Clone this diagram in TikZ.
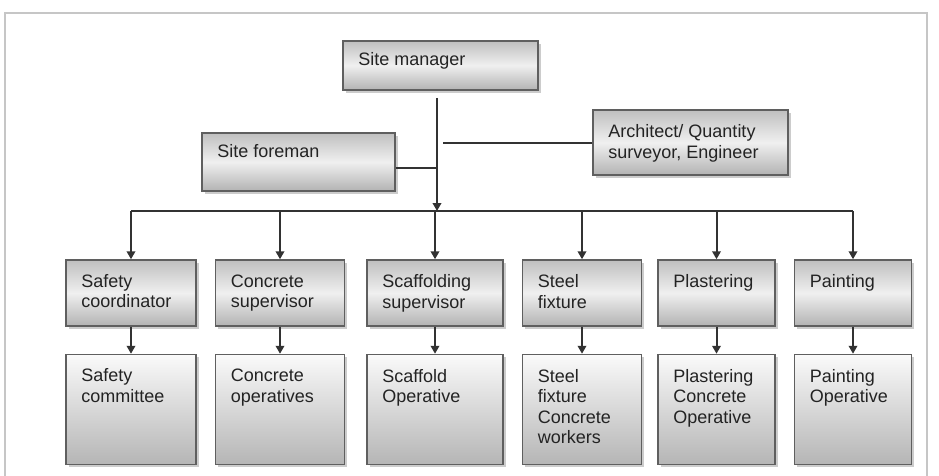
\documentclass[tikz,border=0pt]{standalone}
\usepackage{fontspec}
\setmainfont{Liberation Sans}
\usetikzlibrary{arrows.meta, positioning, shadows}
\definecolor{boxborder}{RGB}{95,95,95}
\definecolor{linkcolor}{RGB}{50,50,50}
\definecolor{textcolor}{RGB}{35,35,35}
\tikzset{
    box/.style={rectangle, draw=boxborder, line width=1.5pt, inner sep=0pt,
        drop shadow={opacity=0.4, shadow xshift=2.5pt, shadow yshift=-2.5pt}},
    headbox/.style={box, top color=gray!50, bottom color=gray!60, middle color=gray!12,
        minimum height=66pt},
    crewbox/.style={box, top color=gray!4, bottom color=gray!58, minimum height=110pt},
    boxtext/.style={anchor=north west, align=left, inner sep=0pt, text=textcolor,
        font=\fontsize{18}{20.5}\selectfont, xshift=16pt, yshift=-15pt},
    link/.style={draw=linkcolor, line width=2pt},
    arrow/.style={link, -{Triangle[length=8pt, width=8.5pt]}}
}

\begin{document}
\begin{tikzpicture}[x=1pt, y=-1pt]
    \useasboundingbox (0,0) rectangle (939,475);

    % panel frame
    \draw[draw=gray!45, line width=2.5pt] (5,13) rectangle (927,490);

    % Top level
    \node[headbox, minimum width=195pt, minimum height=49pt] (mgr) at (440.5,65.5) {};
    \node[boxtext, yshift=3pt] (mgrtext) at (mgr.north west) {Site manager};
    \node[headbox, minimum width=193pt, minimum height=58pt] (fm) at (298.5,162) {};
    \node[boxtext, yshift=3pt] (fmtext) at (fm.north west) {Site foreman};
    \node[headbox, minimum width=195pt, minimum height=65pt] (arch) at (690.5,142.5) {};
    \node[boxtext] (archtext) at (arch.north west) {Architect/ Quantity\\surveyor, Engineer};

    \coordinate (trunk) at (437,211);

    % Row 1: supervisors
    \node[headbox, minimum width=130pt] (sc) at (131,293) {};
    \node[headbox, minimum width=129pt, right=18pt of sc] (cs) {};
    \node[headbox, minimum width=136pt, right=21pt of cs] (ss) {};
    \node[headbox, minimum width=119pt, right=18pt of ss] (sf) {};
    \node[headbox, minimum width=117pt, right=15pt of sf] (pl) {};
    \node[headbox, minimum width=117pt, right=18pt of pl] (pt) {};

    \node[boxtext] (sctext) at (sc.north west) {Safety\\coordinator};
    \node[boxtext] (cstext) at (cs.north west) {Concrete\\supervisor};
    \node[boxtext] (sstext) at (ss.north west) {Scaffolding\\supervisor};
    \node[boxtext] (sftext) at (sf.north west) {Steel\\fixture};
    \node[boxtext] (pltext) at (pl.north west) {Plastering};
    \node[boxtext] (pttext) at (pt.north west) {Painting};

    % Row 2: operatives
    \node[crewbox, minimum width=130pt, below=27pt of sc] (scw) {};
    \node[crewbox, minimum width=129pt, below=27pt of cs] (csw) {};
    \node[crewbox, minimum width=136pt, below=27pt of ss] (ssw) {};
    \node[crewbox, minimum width=119pt, below=27pt of sf] (sfw) {};
    \node[crewbox, minimum width=117pt, below=27pt of pl] (plw) {};
    \node[crewbox, minimum width=117pt, below=27pt of pt] (ptw) {};

    \node[boxtext] (scwtext) at (scw.north west) {Safety\\committee};
    \node[boxtext] (cswtext) at (csw.north west) {Concrete\\operatives};
    \node[boxtext] (sswtext) at (ssw.north west) {Scaffold\\Operative};
    \node[boxtext] (sfwtext) at (sfw.north west) {Steel\\fixture\\Concrete\\workers};
    \node[boxtext] (plwtext) at (plw.north west) {Plastering\\Concrete\\Operative};
    \node[boxtext] (ptwtext) at (ptw.north west) {Painting\\Operative};

    % connectors
    \draw[arrow] ([yshift=-7pt]mgr.south -| trunk) -- (trunk);
    \draw[link] ([yshift=-6pt]fm.east) -- ([yshift=-6pt]fm.east -| trunk);
    \draw[link] (arch.west) -- ([xshift=6pt]arch.west -| trunk);
    \draw[link] (sc.north |- trunk) -- (pt.north |- trunk);

    \foreach \top/\crew in {sc/scw, cs/csw, ss/ssw, sf/sfw, pl/plw, pt/ptw} {
        \draw[arrow] (\top.north |- trunk) -- (\top.north);
        \draw[arrow] (\top.south) -- (\crew.north);
    }

\end{tikzpicture}
\end{document}
